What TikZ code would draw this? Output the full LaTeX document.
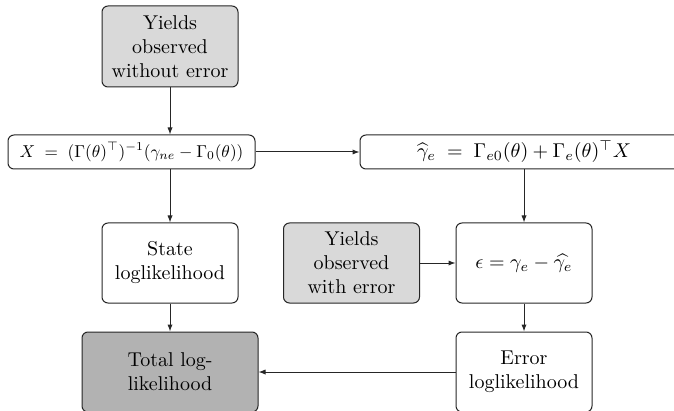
\documentclass[tikz,border=0pt]{standalone}
\usepackage{amsmath,amssymb}
\usetikzlibrary{arrows.meta}
\begin{document}
\begin{tikzpicture}[x=0.5pt,y=-0.5pt,
  box/.style={draw=black!85,line width=0.5pt,rounded corners=3pt,align=center,inner sep=2pt},
  sbox/.style={box,minimum width=68pt,minimum height=40pt},
  wbox/.style={box,minimum height=17pt},
  light/.style={fill=black!15},
  dark/.style={fill=black!30},
  arr/.style={-{Latex[length=3.5pt,width=2.6pt]},line width=0.5pt,draw=black!85}]
\useasboundingbox (0,0) rectangle (674,411);
\node[sbox,light,minimum height=40.5pt] (top) at (170,46.5) {Yields\\observed\\without error};
\node[wbox,minimum width=123.5pt] (X) at (131.5,152) {\scalebox{0.86}{$X \;=\; (\Gamma(\theta)^{\top})^{-1}(\gamma_{ne}-\Gamma_0(\theta))$}};
\node[wbox,minimum width=164pt] (G) at (524,152) {$\widehat{\gamma}_e \;=\; \Gamma_{e0}(\theta)+\Gamma_e(\theta)^{\top}X$};
\node[sbox] (state) at (170,263) {State\\loglikelihood};
\node[sbox,light] (ywe) at (351.5,263) {Yields\\observed\\with error};
\node[sbox] (eps) at (524,263) {$\epsilon=\gamma_e-\widehat{\gamma_e}$};
\node[sbox,dark,minimum width=88pt] (total) at (170,372) {Total log-\\likelihood};
\node[sbox] (err) at (524,372) {Error\\loglikelihood};
\draw[arr] (top) -- (top |- X.north);
\draw[arr] (X) -- (G);
\draw[arr] (state |- X.south) -- (state);
\draw[arr] (G) -- (eps);
\draw[arr] (ywe) -- (eps);
\draw[arr] (state) -- (total);
\draw[arr] (eps) -- (err);
\draw[arr] (err) -- (total);
\end{tikzpicture}
\end{document}
